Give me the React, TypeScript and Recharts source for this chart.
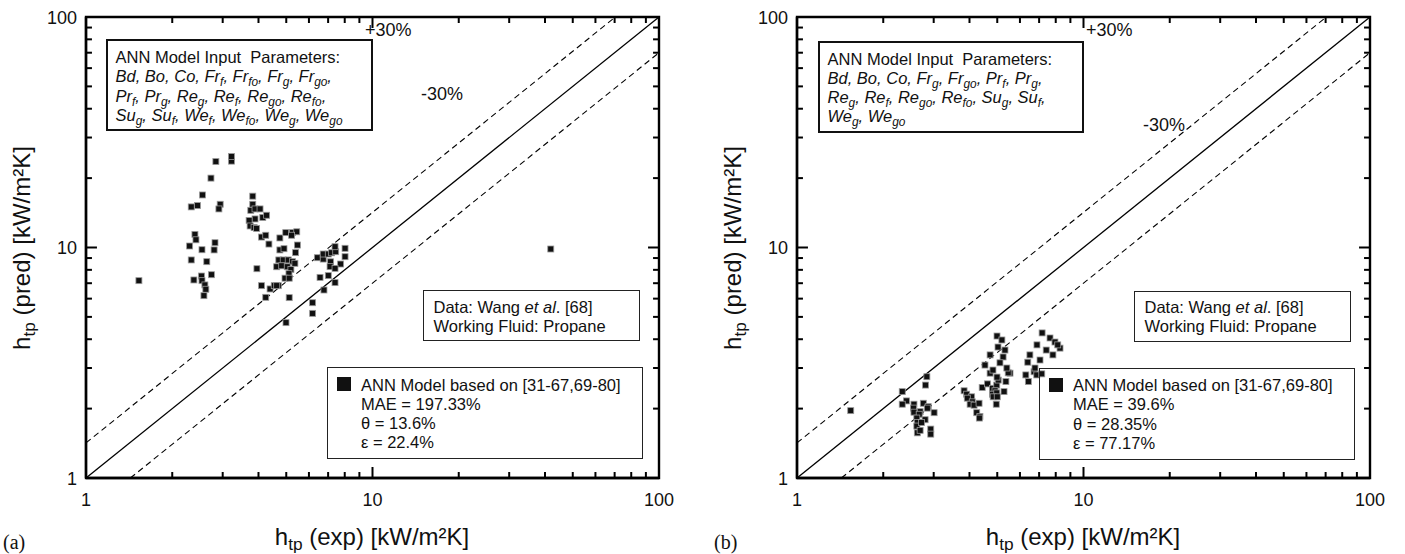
import React from 'react';
import { ScatterChart, Scatter, XAxis, YAxis, ReferenceLine, ReferenceArea } from 'recharts';

// ---- data ----
const xA = [1.53, 2.84, 3.22, 3.22, 2.73, 2.55, 2.33, 2.45, 2.94, 2.91, 2.40, 2.42, 2.30, 2.33, 2.54, 2.64, 2.80, 2.82, 2.74, 2.38, 2.53, 2.54, 2.60, 2.62, 2.58,
  3.82, 3.82, 3.76, 3.89, 4.05, 4.14, 4.27, 3.89, 3.71, 3.74, 3.86, 3.94, 4.10, 4.24, 4.35, 3.95, 4.10, 4.39, 4.24, 4.54, 4.69,
  4.75, 4.98, 5.25, 5.44, 5.22, 5.47, 5.39, 4.75, 4.91, 4.71, 4.88, 5.08, 5.26, 5.36, 4.63, 4.82, 5.04, 5.19, 5.11, 4.95, 5.12, 4.63, 5.12, 4.99,
  6.42, 6.73, 6.73, 7.01, 7.20, 7.44, 7.40, 8.02, 8.02, 7.74, 7.14, 7.11, 7.40, 6.56, 7.01, 7.40, 6.77, 6.18, 6.18, 41.9];
const yA = [7.18, 23.6, 23.7, 24.8, 20.0, 16.9, 15.0, 15.2, 15.4, 14.7, 11.4, 10.8, 10.15, 8.83, 9.78, 8.68, 9.76, 10.49, 7.62, 7.23, 7.52, 7.18, 6.88, 6.59, 6.18,
  16.7, 15.4, 14.5, 14.7, 14.7, 13.5, 13.8, 13.3, 13.1, 12.4, 12.2, 12.1, 11.1, 11.3, 10.35, 8.09, 6.83, 6.61, 6.08, 6.83, 6.83,
  11.0, 11.6, 11.6, 11.7, 11.3, 10.25, 9.5, 9.76, 9.88, 8.83, 8.83, 8.83, 8.68, 8.54, 8.25, 8.33, 8.25, 8.03, 7.70, 7.36, 7.36, 6.83, 6.06, 4.72,
  9.03, 8.91, 9.37, 9.37, 9.49, 9.59, 10.08, 9.92, 9.12, 8.48, 8.67, 8.26, 8.12, 7.42, 7.55, 7.04, 6.54, 5.76, 5.18, 9.85];

const xB = [1.54, 2.84, 2.81, 2.33, 2.41, 2.33, 2.56, 2.55, 2.69, 2.56, 2.67, 2.76, 2.87, 3.01, 2.85, 2.62, 2.63, 2.80, 2.62, 2.72, 2.63, 2.69, 2.93, 2.93,
  3.83, 3.91, 4.07, 3.93, 4.09, 4.02, 4.15, 4.32, 4.24, 4.35, 4.33, 4.43, 4.62, 4.81, 4.98, 5.04, 4.91, 4.81, 4.98, 5.28, 4.84, 5.00, 4.96, 4.72, 5.36, 5.54, 5.46,
  6.29, 6.42, 6.72, 6.87, 7.15,
  4.99, 5.19, 5.03, 5.32, 4.72, 5.24, 5.11, 4.53, 5.40, 4.83, 4.99,
  7.17, 7.64, 6.88, 7.95, 8.28, 7.41, 6.50, 7.82, 7.05, 6.39, 8.13, 6.77];
const yB = [1.96, 2.75, 2.53, 2.37, 2.16, 2.09, 2.09, 2.01, 1.94, 1.93, 1.89, 2.11, 2.04, 1.92, 2.01, 1.82, 1.74, 1.79, 1.68, 1.74, 1.57, 1.61, 1.63, 1.55,
  2.39, 2.31, 2.25, 2.22, 2.14, 2.09, 2.07, 2.11, 1.92, 1.85, 1.82, 2.47, 2.56, 2.45, 2.53, 2.66, 2.39, 2.31, 2.34, 2.37, 2.25, 2.25, 2.09, 2.85, 2.62, 2.85, 2.86,
  2.80, 2.62, 2.89, 2.80, 2.83,
  4.13, 3.97, 3.70, 3.59, 3.42, 3.35, 3.16, 3.09, 3.00, 2.94, 2.74,
  4.26, 4.05, 3.78, 3.89, 3.66, 3.59, 3.42, 3.42, 3.25, 3.18, 3.78, 3.00];

const TICKS = [1, 2, 3, 4, 5, 6, 7, 8, 9, 10, 20, 30, 40, 50, 60, 70, 80, 90, 100];
const MAJOR = [1, 10, 100];
const UPPER = 1.42;
const LOWER = 0.7;
const AXIS_MIN = 1;
const AXIS_MAX = 100;

const dataA = xA.map((x, i) => ({ x, y: yA[i] }));
const dataB = xB.map((x, i) => ({ x, y: yB[i] }));

// tick-mark lengths expressed as multiplicative factors on the log axes (style)
const VT_MAJOR = 1.116; // ~11px on a y decade
const VT_MINOR = 1.062; // ~6px
const HT_MAJOR = 1.092; // ~11px on an x decade
const HT_MINOR = 1.049; // ~6px

// ---- layout ----
const FONT = '"Liberation Sans", Arial, Helvetica, sans-serif';
const PLOT_TOP = 17;
const PLOT_LEFT = 86;
const PLOT_RIGHT = 659;
const TW = 2;

const XLabel = (props: any) => {
  const { x, y, payload } = props;
  return (
    <text x={x} y={y + 28} textAnchor="middle" fontSize={18} fontFamily={FONT} fill="#111">{payload.value}</text>
  );
};

const YLabel = (props: any) => {
  const { x, y, payload } = props;
  return (
    <text x={x - 9} y={y + 6.5} textAnchor="end" fontSize={18} fontFamily={FONT} fill="#111">{payload.value}</text>
  );
};

const Marker = (props: any) => {
  const { cx, cy } = props;
  return <rect x={cx - 3} y={cy - 3} width={6} height={6} fill="#111" stroke="#9a9a9a" strokeWidth={0.8} />;
};

const tickLines = () => {
  const out: React.ReactNode[] = [];
  TICKS.forEach((v) => {
    const major = MAJOR.includes(v);
    const fv = major ? VT_MAJOR : VT_MINOR;
    const fh = major ? HT_MAJOR : HT_MINOR;
    out.push(<ReferenceLine key={'b' + v} segment={[{ x: v, y: AXIS_MIN }, { x: v, y: AXIS_MIN * fv }]} stroke="#000" strokeWidth={TW} ifOverflow="visible" />);
    out.push(<ReferenceLine key={'t' + v} segment={[{ x: v, y: AXIS_MAX }, { x: v, y: AXIS_MAX / fv }]} stroke="#000" strokeWidth={TW} ifOverflow="visible" />);
    out.push(<ReferenceLine key={'l' + v} segment={[{ x: AXIS_MIN, y: v }, { x: AXIS_MIN * fh, y: v }]} stroke="#000" strokeWidth={TW} ifOverflow="visible" />);
    out.push(<ReferenceLine key={'r' + v} segment={[{ x: AXIS_MAX, y: v }, { x: AXIS_MAX / fh, y: v }]} stroke="#000" strokeWidth={TW} ifOverflow="visible" />);
  });
  return out;
};

const Panel = ({ data, width }: { data: { x: number; y: number }[]; width: number }) => (
  <ScatterChart width={width} height={554} margin={{ top: PLOT_TOP, left: PLOT_LEFT - 30, right: width - PLOT_RIGHT, bottom: 554 - 478 - 30 }}>
    <XAxis
      dataKey="x"
      type="number"
      scale="log"
      domain={[AXIS_MIN, AXIS_MAX]}
      ticks={MAJOR}
      interval={0}
      allowDataOverflow
      height={30}
      tickSize={0}
      tickMargin={0}
      tickLine={false}
      axisLine={{ stroke: '#000', strokeWidth: 2.4 }}
      tick={<XLabel />}
    />
    <YAxis
      dataKey="y"
      type="number"
      scale="log"
      domain={[AXIS_MIN, AXIS_MAX]}
      ticks={MAJOR}
      interval={0}
      allowDataOverflow
      width={30}
      tickSize={0}
      tickMargin={0}
      tickLine={false}
      axisLine={{ stroke: '#000', strokeWidth: 2.4 }}
      tick={<YLabel />}
    />
    <ReferenceArea x1={AXIS_MIN} x2={AXIS_MAX} y1={AXIS_MIN} y2={AXIS_MAX} fill="none" stroke="#000" strokeWidth={2.4} ifOverflow="visible" />
    {tickLines()}
    <ReferenceLine segment={[{ x: 1, y: 1 }, { x: 100, y: 100 }]} stroke="#000" strokeWidth={1.3} ifOverflow="visible" />
    <ReferenceLine segment={[{ x: 1, y: UPPER }, { x: 100 / UPPER, y: 100 }]} stroke="#000" strokeWidth={1.1} strokeDasharray="6 4" ifOverflow="visible" />
    <ReferenceLine segment={[{ x: 1 / LOWER, y: 1 }, { x: 100, y: 100 * LOWER }]} stroke="#000" strokeWidth={1.1} strokeDasharray="6 4" ifOverflow="visible" />
    <Scatter data={data} shape={<Marker />} isAnimationActive={false} />
  </ScatterChart>
);

const sub = (t: string) => (
  <span style={{ fontSize: '0.72em', verticalAlign: '-0.32em', lineHeight: 0 }}>{t}</span>
);

const V = (name: string, s?: string, last?: boolean) => (
  <span>
    {name}
    {s ? sub(s) : null}
    {last ? '' : ', '}
  </span>
);

const boxText: React.CSSProperties = { fontFamily: FONT, fontSize: 16.5, lineHeight: '19.3px', color: '#111', whiteSpace: 'nowrap' };

const ParamBox = ({ left, top, width, height, lines }: any) => (
  <div style={{ position: 'absolute', left, top, width, height, boxSizing: 'border-box', border: '2.5px solid #111', padding: '7px 0 0 7.5px', ...boxText }}>
    <div>ANN Model Input&nbsp; Parameters:</div>
    {lines.map((ln: any, i: number) => (
      <div key={i} style={{ fontStyle: 'italic' }}>{ln}</div>
    ))}
  </div>
);

const DataBox = ({ left, top }: any) => (
  <div style={{ position: 'absolute', left, top, width: 217, height: 51, boxSizing: 'border-box', border: '1.2px solid #222', padding: '6.5px 0 0 9.5px', ...boxText }}>
    <div>Data: Wang <i>et al</i>. [68]</div>
    <div>Working Fluid: Propane</div>
  </div>
);

const LegendBox = ({ left, top, lines }: any) => (
  <div style={{ position: 'absolute', left, top, width: 316, height: 92, boxSizing: 'border-box', border: '1.2px solid #222', ...boxText }}>
    <div style={{ position: 'absolute', left: 9, top: 9, width: 14, height: 14, background: '#111' }} />
    <div style={{ position: 'absolute', left: 33, top: 7.5 }}>
      {lines.map((l: string, i: number) => (
        <div key={i}>{l}</div>
      ))}
    </div>
  </div>
);

const AxisTitles = ({ offset, tag }: { offset: number; tag: string }) => (
  <>
    <div style={{ position: 'absolute', left: offset + 372 - 150, width: 300, top: 522, textAlign: 'center', fontFamily: FONT, fontSize: 24, color: '#111', whiteSpace: 'nowrap', lineHeight: '30px' }}>
      h<span style={{ fontSize: '0.72em', verticalAlign: '-0.3em', lineHeight: 0 }}>tp</span> (exp) [kW/m²K]
    </div>
    <div style={{ position: 'absolute', left: offset + 22 - 150, top: 248 - 15, width: 300, height: 30, textAlign: 'center', transform: 'rotate(-90deg)', fontFamily: FONT, fontSize: 24, color: '#111', whiteSpace: 'nowrap', lineHeight: '30px' }}>
      h<span style={{ fontSize: '0.72em', verticalAlign: '-0.3em', lineHeight: 0 }}>tp</span> (pred) [kW/m²K]
    </div>
    <div style={{ position: 'absolute', left: offset + 3, top: 532, fontFamily: '"Liberation Serif", "Times New Roman", serif', fontSize: 20, color: '#111', lineHeight: '20px' }}>{tag}</div>
  </>
);

const pctStyle: React.CSSProperties = { position: 'absolute', fontFamily: FONT, fontSize: 18, color: '#111', lineHeight: '20px', whiteSpace: 'nowrap' };

export default function App() {
  const linesA = [
    <>{V('Bd')}{V('Bo')}{V('Co')}{V('Fr', 'f')}{V('Fr', 'fo')}{V('Fr', 'g')}{V('Fr', 'go')}</>,
    <>{V('Pr', 'f')}{V('Pr', 'g')}{V('Re', 'g')}{V('Re', 'f')}{V('Re', 'go')}{V('Re', 'fo')}</>,
    <>{V('Su', 'g')}{V('Su', 'f')}{V('We', 'f')}{V('We', 'fo')}{V('We', 'g')}{V('We', 'go', true)}</>,
  ];
  const linesB = [
    <>{V('Bd')}{V('Bo')}{V('Co')}{V('Fr', 'g')}{V('Fr', 'go')}{V('Pr', 'f')}{V('Pr', 'g')}</>,
    <>{V('Re', 'g')}{V('Re', 'f')}{V('Re', 'go')}{V('Re', 'fo')}{V('Su', 'g')}{V('Su', 'f')}</>,
    <>{V('We', 'g')}{V('We', 'go', true)}</>,
  ];
  return (
    <div style={{ position: 'absolute', left: 0, top: 0, width: 1405, height: 554, background: '#fff', overflow: 'hidden' }}>
      <div style={{ position: 'absolute', left: 0, top: 0 }}>
        <Panel data={dataA} width={700} />
      </div>
      <div style={{ position: 'absolute', left: 711, top: 0 }}>
        <Panel data={dataB} width={694} />
      </div>

      <ParamBox left={106} top={39} width={267} height={92} lines={linesA} />
      <ParamBox left={818} top={40.5} width={266} height={92} lines={linesB} />

      <DataBox left={423} top={290} />
      <DataBox left={1134} top={290.5} />

      <LegendBox left={327} top={367} lines={['ANN Model based on [31-67,69-80]', 'MAE = 197.33%', 'θ = 13.6%', 'ε = 22.4%']} />
      <LegendBox left={1039} top={367.5} lines={['ANN Model based on [31-67,69-80]', 'MAE = 39.6%', 'θ = 28.35%', 'ε = 77.17%']} />

      <div style={{ ...pctStyle, left: 365, top: 20 }}>+30%</div>
      <div style={{ ...pctStyle, left: 421, top: 84 }}>-30%</div>
      <div style={{ ...pctStyle, left: 1086, top: 20 }}>+30%</div>
      <div style={{ ...pctStyle, left: 1143, top: 115 }}>-30%</div>

      <AxisTitles offset={0} tag="(a)" />
      <AxisTitles offset={711} tag="(b)" />
    </div>
  );
}
